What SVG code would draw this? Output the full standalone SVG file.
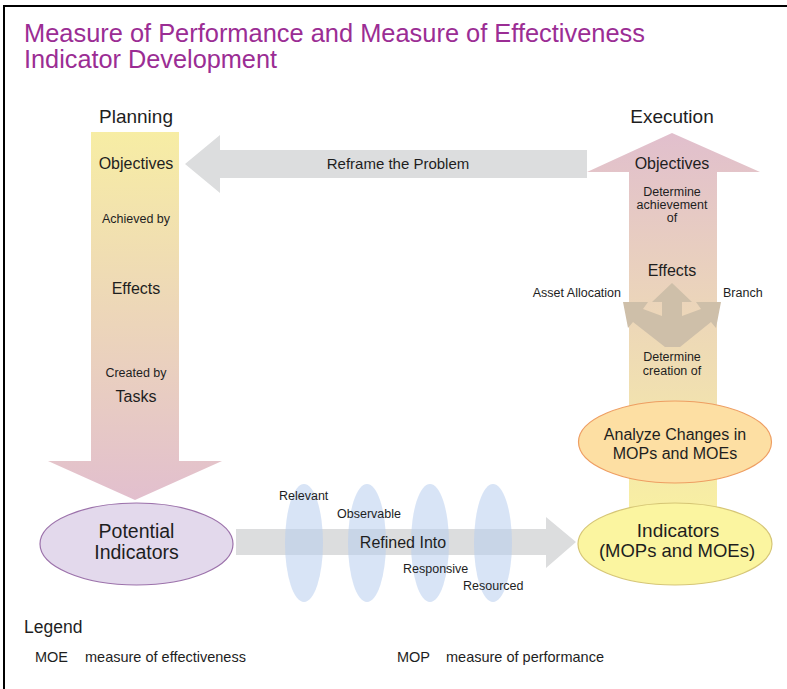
<svg xmlns="http://www.w3.org/2000/svg" width="787" height="689" viewBox="0 0 787 689">
<defs>
<linearGradient id="gPlan" gradientUnits="userSpaceOnUse" x1="0" y1="132" x2="0" y2="500">
<stop offset="0" stop-color="#F7EDA4"/>
<stop offset="1" stop-color="#E2BFCE"/>
</linearGradient>
<linearGradient id="gExec" gradientUnits="userSpaceOnUse" x1="0" y1="133" x2="0" y2="510">
<stop offset="0" stop-color="#E1BFCD"/>
<stop offset="1" stop-color="#F8EFA3"/>
</linearGradient>
<style>
text{font-family:"Liberation Sans",Arial,sans-serif;fill:#1e1e1e;}
.c{text-anchor:middle;}
.h{font-size:19px;}
.m{font-size:16px;}
.s{font-size:12.5px;}
.b{font-size:19.5px;}
.lg{font-size:14.5px;}
.title{font-size:25px;fill:#9B2D94;}
.gray{fill:#DCDDDE;}
.filt{fill:#B8CEEE;fill-opacity:0.55;}
</style>
</defs>
<rect x="0" y="0" width="787" height="689" fill="#FFFFFF"/>
<rect x="4" y="6" width="800" height="700" fill="none" stroke="#000000" stroke-width="2"/>

<g id="title">
<text class="title" x="24" y="42" textLength="621" lengthAdjust="spacingAndGlyphs">Measure of Performance and Measure of Effectiveness</text>
<text class="title" x="24" y="68" textLength="253" lengthAdjust="spacingAndGlyphs">Indicator Development</text>
</g>

<g id="planning">
<polygon points="91,132 179,132 179,461 222,461 135,500 48,461 91,461" fill="url(#gPlan)"/>
<text class="c h" x="136" y="123">Planning</text>
<text class="c m" x="136" y="169">Objectives</text>
<text class="c s" x="136" y="223">Achieved by</text>
<text class="c m" x="136" y="294">Effects</text>
<text class="c s" x="136" y="377">Created by</text>
<text class="c m" x="136" y="402">Tasks</text>
</g>

<g id="execution">
<polygon points="672,133 760,172 717,172 717,512 629,512 629,172 587,172" fill="url(#gExec)"/>
<text class="c h" x="672" y="123">Execution</text>
<text class="c m" x="672" y="169">Objectives</text>
<text class="c s" x="672" y="196">Determine</text>
<text class="c s" x="672" y="209">achievement</text>
<text class="c s" x="672" y="222">of</text>
<text class="c m" x="672" y="276">Effects</text>
<polygon points="672,283 692,302 682,302 682,316 701,309 696,302 721,302 716,328 711,322 680,347 665,347 633,322 628,328 623,302 648,302 643,309 662,316 662,302 652,302" fill="#CEBFA9"/>
<text class="s" x="621" y="297" text-anchor="end">Asset Allocation</text>
<text class="s" x="723" y="297">Branch</text>
<text class="c s" x="672" y="361">Determine</text>
<text class="c s" x="672" y="375">creation of</text>
</g>

<g id="connectors">
<polygon class="gray" points="587,150 220,150 220,135 185,164 220,193 220,178 587,178"/>
<text class="c" x="398" y="169" font-size="15">Reframe the Problem</text>
<polygon class="gray" points="236,529 546,529 546,517 576,542 546,568 546,555 236,555"/>
</g>

<g id="filters">
<ellipse class="filt" cx="304" cy="543" rx="19" ry="59"/>
<ellipse class="filt" cx="367" cy="543" rx="19" ry="59"/>
<ellipse class="filt" cx="430" cy="543" rx="19" ry="59"/>
<ellipse class="filt" cx="493" cy="543" rx="19" ry="59"/>
<text class="c m" x="403" y="548">Refined Into</text>
<text class="s" x="279" y="500">Relevant</text>
<text class="s" x="337" y="518">Observable</text>
<text class="s" x="403" y="573">Responsive</text>
<text class="s" x="463" y="590">Resourced</text>
</g>

<g id="potential">
<ellipse cx="136.5" cy="544" rx="96.5" ry="41" fill="#E3D9EC" stroke="#9C72AB" stroke-width="1.2"/>
<text class="c b" x="136.5" y="538">Potential</text>
<text class="c b" x="136.5" y="559">Indicators</text>
</g>

<g id="analyze">
<ellipse cx="675" cy="442" rx="96.5" ry="41" fill="#FDDFA3" stroke="#EE9E62" stroke-width="1.2"/>
<text class="c m" x="675" y="440">Analyze Changes in</text>
<text class="c m" x="675" y="459">MOPs and MOEs</text>
</g>

<g id="indicators">
<ellipse cx="675" cy="544" rx="97" ry="41" fill="#FBF5A0" stroke="#D6C676" stroke-width="1.2"/>
<text class="c" x="678" y="537" font-size="19">Indicators</text>
<text class="c" x="677" y="557" font-size="18.5">(MOPs and MOEs)</text>
</g>

<g id="legend">
<text x="24" y="633" font-size="17.5">Legend</text>
<text class="lg" x="35" y="662">MOE</text>
<text class="lg" x="85" y="662">measure of effectiveness</text>
<text class="lg" x="397" y="662">MOP</text>
<text class="lg" x="446" y="662">measure of performance</text>
</g>
</svg>
